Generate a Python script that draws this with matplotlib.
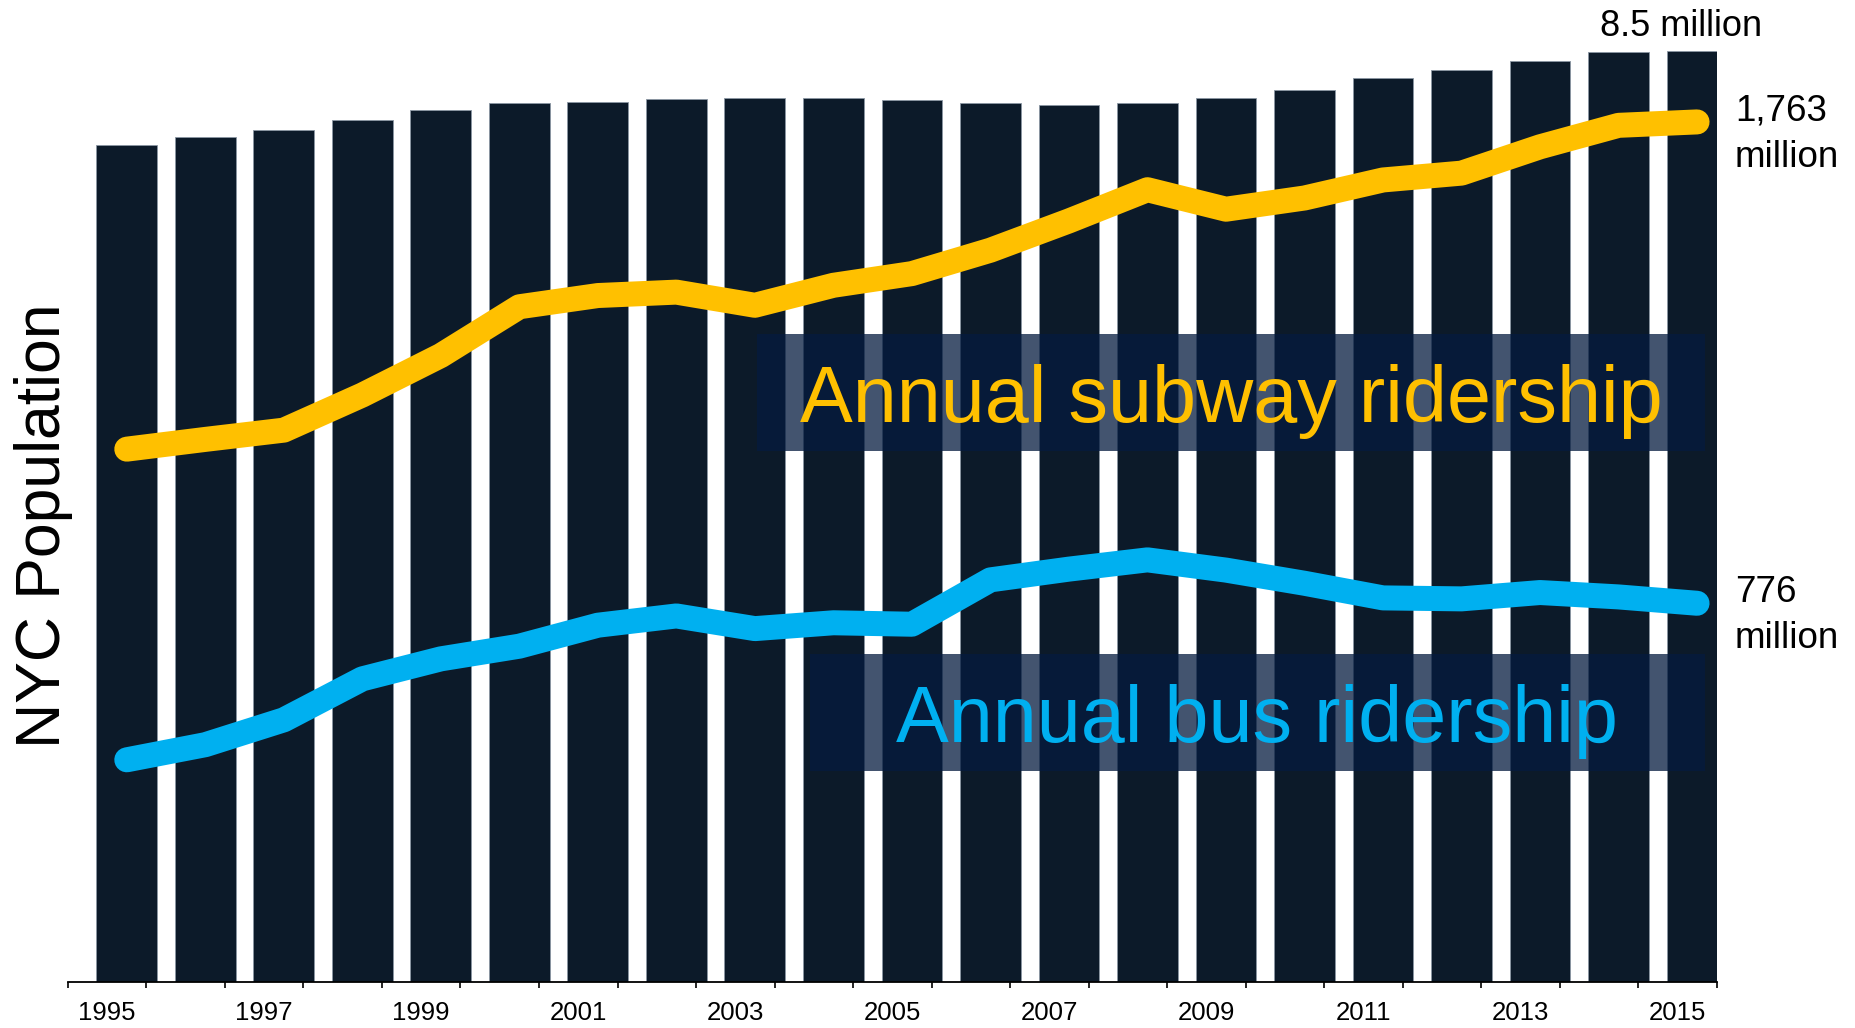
import matplotlib
matplotlib.use("Agg")
import matplotlib.pyplot as plt
from matplotlib.patches import Rectangle
import numpy as np

plt.rcParams['font.family'] = ['Liberation Sans', 'DejaVu Sans']

# NYC population (millions) and annual MTA ridership (millions of rides)
years = list(range(1995, 2016))
population_m = [7.64, 7.71, 7.78, 7.87, 7.96, 8.02, 8.03, 8.06, 8.07, 8.07, 8.05,
                8.02, 8.01, 8.02, 8.07, 8.14, 8.25, 8.33, 8.41, 8.49, 8.50]
subway_m = [1092, 1112, 1131, 1203, 1284, 1384, 1407, 1414, 1387, 1428, 1452,
            1500, 1560, 1624, 1584, 1607, 1644, 1658, 1712, 1756, 1763]
bus_m = [455, 486, 537, 621, 662, 688, 731, 750, 724, 736, 733,
         824, 846, 865, 844, 817, 787, 785, 798, 789, 776]
tick_years = years[::2]

pop_label = "8.5 million"
subway_label = ("1,763", "million")
bus_label = ("776", "million")

BAR_COLOR = '#0C1A29'
SUBWAY_COLOR = '#FFC000'
BUS_COLOR = '#00B0F0'
BOX_COLOR = (4 / 255, 27 / 255, 63 / 255)

W, H = 1855, 1028
fig = plt.figure(figsize=(W / 100, H / 100), dpi=100)
ax_l, ax_r, ax_top, ax_bot = 67.9, 1716.7, 41.7, 981.7
ax = fig.add_axes([ax_l / W, 1 - ax_bot / H, (ax_r - ax_l) / W, (ax_bot - ax_top) / H])

idx = np.arange(len(years))
xpos = idx + 0.25

ax.bar(xpos, population_m, width=0.775, color=BAR_COLOR,
       edgecolor='#8a96a3', linewidth=0.6, zorder=2)
ax.set_xlim(-0.5, len(years) - 0.5)
ax.set_ylim(0, 8.584)

for side in ('left', 'top', 'right'):
    ax.spines[side].set_visible(False)
ax.spines['bottom'].set_color('black')
ax.spines['bottom'].set_linewidth(1.3)
ax.set_yticks([])

ax.set_xticks(np.arange(-0.5, len(years), 1.0))
ax.set_xticklabels([])
ax.tick_params(axis='x', which='major', length=4.5, width=1.2, color='black', direction='out')
ax.set_xticks(idx[::2], minor=True)
ax.set_xticklabels([str(y) for y in tick_years], minor=True, fontsize=18.5)
ax.tick_params(axis='x', which='minor', length=0, pad=14)

ax.annotate(pop_label, xy=(xpos[-1], population_m[-1]), xytext=(-16, 15),
            textcoords='offset pixels', ha='center', va='baseline',
            fontsize=26, color='black', annotation_clip=False)

# ridership lines on a secondary scale
ax2 = ax.twinx()
ax2.set_ylim(0, 1927.5)
ax2.set_yticks([])
for s in ax2.spines.values():
    s.set_visible(False)

ax2.plot(xpos, subway_m, color=SUBWAY_COLOR, lw=18, solid_capstyle='round',
         solid_joinstyle='round', clip_on=False, zorder=3)
ax2.plot(xpos, bus_m, color=BUS_COLOR, lw=18, solid_capstyle='round',
         solid_joinstyle='round', clip_on=False, zorder=3)

for (num, unit), series in ((subway_label, subway_m), (bus_label, bus_m)):
    ax2.annotate(num, xy=(xpos[-1], series[-1]), xytext=(38, 1),
                 textcoords='offset pixels', ha='left', va='baseline',
                 fontsize=26.5, color='black', annotation_clip=False)
    ax2.annotate(unit, xy=(xpos[-1], series[-1]), xytext=(38, -45),
                 textcoords='offset pixels', ha='left', va='baseline',
                 fontsize=26.5, color='black', annotation_clip=False)

# series name boxes
ax2.add_patch(Rectangle((0.4179, 0.5649), 0.9929 - 0.4179, 0.6890 - 0.5649,
                        transform=ax2.transAxes, facecolor=BOX_COLOR, alpha=0.75,
                        edgecolor='none', zorder=4))
ax2.add_patch(Rectangle((0.4501, 0.2245), 0.9929 - 0.4501, 0.3486 - 0.2245,
                        transform=ax2.transAxes, facecolor=BOX_COLOR, alpha=0.75,
                        edgecolor='none', zorder=4))
ax2.text(0.7057, 0.5957, "Annual subway ridership", transform=ax2.transAxes,
         ha='center', va='baseline', fontsize=57, color=SUBWAY_COLOR, zorder=5)
ax2.text(0.7209, 0.2553, "Annual bus ridership", transform=ax2.transAxes,
         ha='center', va='baseline', fontsize=57, color=BUS_COLOR, zorder=5)

fig.text(44 / W, 1 - 526 / H, "NYC Population", rotation=90,
         ha='center', va='center', fontsize=45, color='black')

fig.savefig("out.png", dpi=100)
